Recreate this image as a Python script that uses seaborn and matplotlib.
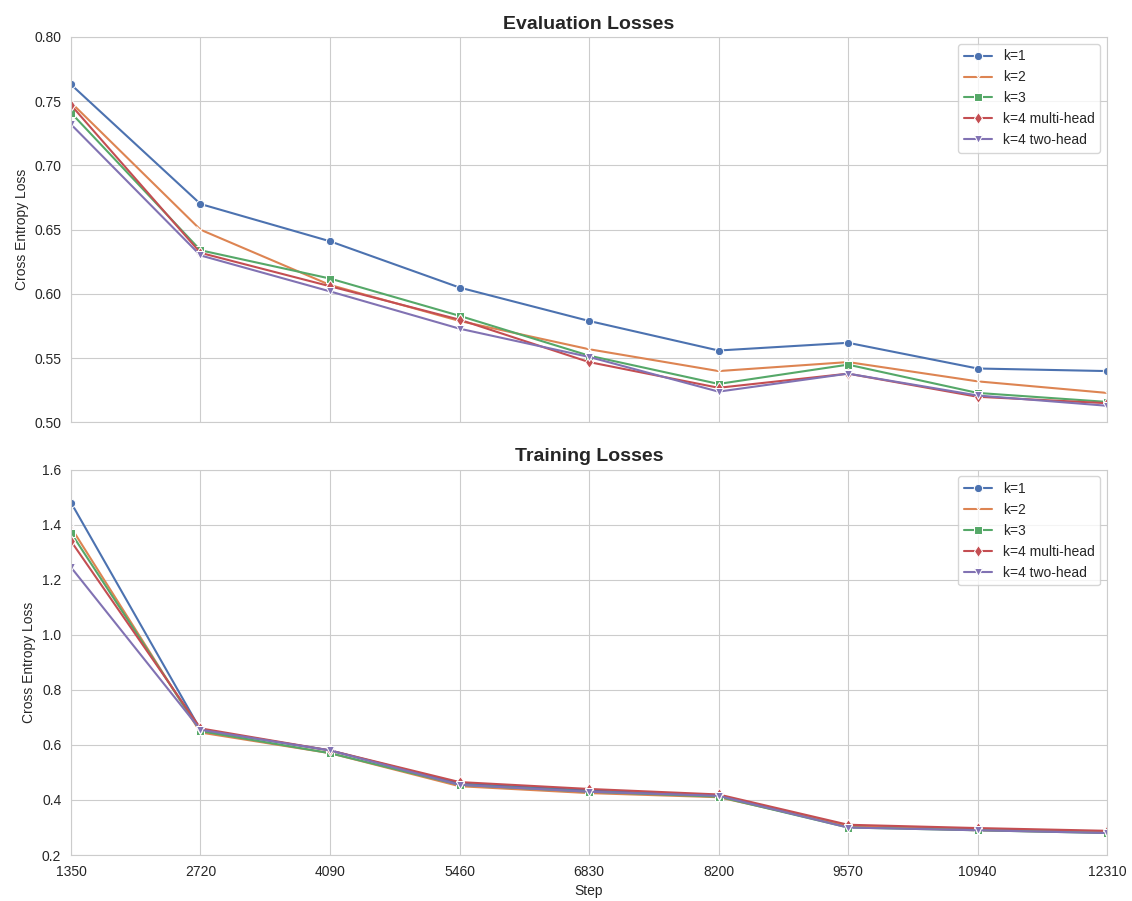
import numpy as np
import matplotlib
matplotlib.use("Agg")
import matplotlib.pyplot as plt
import seaborn as sns

steps = [1350, 2720, 4090, 5460, 6830, 8200, 9570, 10940, 12310]
series_names = ["k=1", "k=2", "k=3", "k=4 multi-head", "k=4 two-head"]

eval_k1 = [0.763, 0.670, 0.641, 0.605, 0.579, 0.556, 0.562, 0.542, 0.540]
eval_k2 = [0.749, 0.650, 0.607, 0.579, 0.557, 0.540, 0.547, 0.532, 0.523]
eval_k3 = [0.741, 0.634, 0.612, 0.583, 0.552, 0.530, 0.545, 0.523, 0.516]
eval_k4_multi = [0.747, 0.632, 0.606, 0.580, 0.547, 0.527, 0.538, 0.520, 0.515]
eval_k4_two = [0.732, 0.630, 0.602, 0.573, 0.551, 0.524, 0.538, 0.521, 0.513]

train_k1 = [1.48, 0.655, 0.580, 0.460, 0.435, 0.415, 0.305, 0.295, 0.285]
train_k2 = [1.39, 0.645, 0.570, 0.450, 0.425, 0.410, 0.305, 0.290, 0.282]
train_k3 = [1.37, 0.650, 0.570, 0.455, 0.430, 0.412, 0.300, 0.290, 0.280]
train_k4_multi = [1.34, 0.660, 0.580, 0.465, 0.440, 0.420, 0.310, 0.298, 0.288]
train_k4_two = [1.245, 0.655, 0.580, 0.455, 0.430, 0.415, 0.300, 0.290, 0.280]

markers = ["o", "x", "s", "d", "v"]

sns.set_style("whitegrid")
plt.rcParams["font.family"] = ["Liberation Sans", "DejaVu Sans"]
palette = sns.color_palette("deep", len(series_names))

fig, axes = plt.subplots(2, 1, figsize=(11.32, 9.01), dpi=100, sharex=True)
fig.subplots_adjust(left=0.0627, right=0.978, top=0.959, bottom=0.051, hspace=0.122)

panels = [
    (axes[0], [eval_k1, eval_k2, eval_k3, eval_k4_multi, eval_k4_two],
     "Evaluation Losses", (0.50, 0.80)),
    (axes[1], [train_k1, train_k2, train_k3, train_k4_multi, train_k4_two],
     "Training Losses", (0.2, 1.6)),
]

for ax, columns, title, ylim in panels:
    for name, vals, marker, color in zip(series_names, columns, markers, palette):
        sns.lineplot(x=steps, y=vals, marker=marker, color=color,
                     label=name, ax=ax)
    ax.set_title(title, fontweight="bold", fontsize=14)
    ax.set_ylabel("Cross Entropy Loss")
    ax.set_ylim(*ylim)
    ax.set_xlim(steps[0], steps[-1])
    ax.set_xticks(steps)
    ax.legend(loc="upper right")

top_ticks = np.arange(0.50, 0.801, 0.05)
axes[0].set_yticks(top_ticks)
axes[0].set_yticklabels([f"{v:.2f}" for v in top_ticks])
bottom_ticks = np.arange(0.2, 1.61, 0.2)
axes[1].set_yticks(bottom_ticks)
axes[1].set_yticklabels([f"{v:.1f}" for v in bottom_ticks])
axes[0].set_xlabel("")
axes[1].set_xlabel("Step")

fig.savefig("out.png", dpi=100)
